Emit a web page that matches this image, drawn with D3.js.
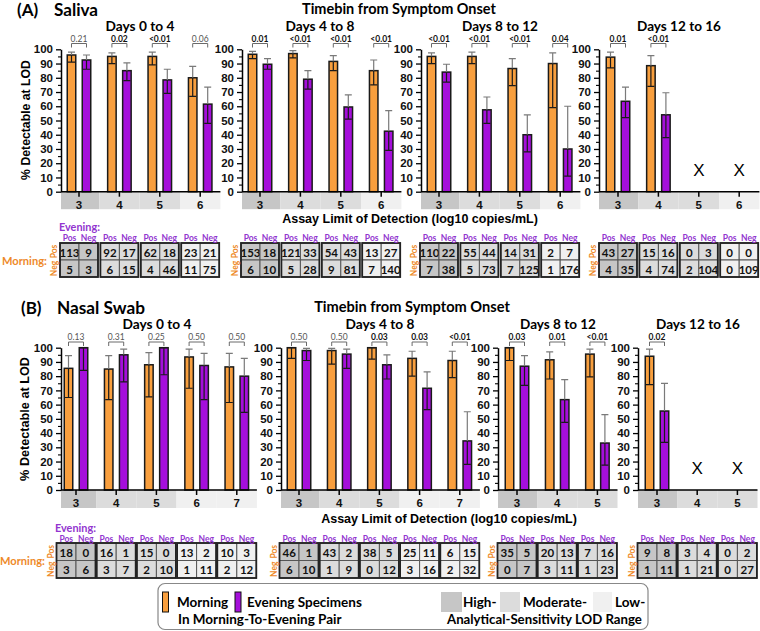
<!DOCTYPE html>
<html><head><meta charset="utf-8">
<script src="https://cdn.jsdelivr.net/npm/d3@7"></script>
<style>body{margin:0;background:#fff} svg{display:block}</style>
</head><body><svg id="c" width="760" height="631"></svg>
<script>
// ---------------- DATA ----------------
const timeBins = ["Days 0 to 4", "Days 4 to 8", "Days 8 to 12", "Days 12 to 16"];
const yTicks = [0,10,20,30,40,50,60,70,80,90,100];

// Saliva
const salivaLOD = [[3,4,5,6],[3,4,5,6],[3,4,5,6],[3,4,5,6]];
const salivaRange = [["H","M","M","L"],["H","M","M","L"],["H","M","M","L"],["H","M","M","L"]];
const salivaMorning   = [[96,95,95,80],[96.5,97,91.5,85],[95,95,86.5,90],[94.5,88.5,null,null]];
const salivaMorningLo = [[91,90,89,67],[93.5,94,85,75],[90,90,74.5,59],[87,74,null,null]];
const salivaMorningHi = [[98,97.5,98,88],[98.5,99,95.5,92.5],[97.5,98,93.5,97.5],[98,95.5,null,null]];
const salivaEvening   = [[92.5,85,78.5,61.5],[89.5,79,59.5,42.5],[84,57.5,40,30],[63.5,54,null,null]];
const salivaEveningLo = [[86,78,69,48],[86,72,51,29],[77,48,28,11],[52,38,null,null]];
const salivaEveningHi = [[96,90.5,86,73.5],[93.5,85,68,57],[89.5,66.5,54,60],[73.5,69.5,null,null]];
const salivaP = [["0.21","0.02","<0.01","0.06"],["0.01","<0.01","<0.01","<0.01"],["<0.01","<0.01","<0.01","0.04"],["0.01","<0.01",null,null]];
// 2x2 tables: [MorningPos&EveningPos, MorningPos&EveningNeg, MorningNeg&EveningPos, MorningNeg&EveningNeg]
const salivaTables = [
  [[113,9,5,3],[92,17,6,15],[62,18,4,46],[23,21,11,75]],
  [[153,18,6,10],[121,33,5,28],[54,43,9,81],[13,27,7,140]],
  [[110,22,7,38],[55,44,5,73],[14,31,7,125],[2,7,1,176]],
  [[43,27,4,35],[15,16,4,74],[0,3,2,104],[0,0,0,109]]
];

// Nasal swab
const nasalLOD = [[3,4,5,6,7],[3,4,5,6,7],[3,4,5],[3,4,5]];
const nasalRange = [["H","M","M","L","L"],["H","M","M","L","L"],["H","M","M"],["H","M","M"]];
const nasalMorning   = [[85.5,85,88,93.5,86.5],[100,98,100,92.5,91],[100,91.5,95.5],[94,null,null]];
const nasalMorningLo = [[65,63.5,65.5,71.5,61.5],[92.5,88.5,92,80,79],[91,78,79.5],[74,null,null]];
const nasalMorningHi = [[94.5,94.5,96.5,99,96],[100,99.5,100,97.5,97.5],[100,97,99],[99,null,null]];
const nasalEvening   = [[100,95,100,87.5,80],[98,95.5,88,71.5,34.5],[87,63.5,33],[55.5,null,null]];
const nasalEveningLo = [[84,76,81,63.5,54.5],[91,85.5,78,56.5,18],[73.5,47.5,17.5],[33.5,null,null]];
const nasalEveningHi = [[100,99,100,96,92.5],[99.5,99,95,83,55],[94.5,77.5,53],[75,null,null]];
const nasalP = [["0.13","0.31","0.25","0.50","0.50"],["0.50","0.50","0.03","0.03","<0.01"],["0.03","0.01","<0.01"],["0.02",null,null]];
const nasalTables = [
  [[18,0,3,6],[16,1,3,7],[15,0,2,10],[13,2,1,11],[10,3,2,12]],
  [[46,1,6,10],[43,2,1,9],[38,5,0,12],[25,11,3,16],[6,15,2,32]],
  [[35,5,0,7],[20,13,3,11],[7,16,1,23]],
  [[9,8,1,11],[3,4,1,21],[0,2,0,27]]
];

// ---------------- STYLE ----------------
const COL_M = "#f89f3e", COL_E = "#a50fdb";
const TXT_M = "#ee8a2a", TXT_E = "#9235cf";
const RANGE_FILL = {H:"#c6c6c6", M:"#dcdcdc", L:"#f0f0f0"};
const F_CAL = "Lato, 'Open Sans', sans-serif";
const F_ARI = "'Liberation Sans', Arial, sans-serif";

const svg = d3.select("#c");

function txt(g, x, y, s, o = {}) {
  const fs = o.fs || 12;
  const t = g.append("text").attr("x", x).attr("y", y).text(s)
    .attr("font-family", o.ff || F_CAL).attr("font-weight", o.fw || "bold")
    .attr("font-size", fs).attr("fill", o.fill || "#000")
    .attr("text-anchor", o.anchor || "start").attr("dominant-baseline", "central");
  if (o.w) { const L = t.node().getComputedTextLength(); t.attr("font-size", fs * o.w / L); }
  if (o.rot) t.attr("transform", `rotate(${o.rot},${x},${y})`);
  return t;
}

function drawPanel(P) {
  const g = svg.append("g");
  const y = d3.scaleLinear().domain([0, 100]).range([P.yBot, P.yTop]);

  // panel headings
  txt(g, P.letterX, P.headY, P.letter, {fs: 17});
  txt(g, P.nameX, P.headY, P.name, {fs: 17, w: P.nameW});
  txt(g, P.timebinX, P.timebinY, "Timebin from Symptom Onset", {fs: 15, w: P.timebinW, anchor: "middle"});
  txt(g, P.yTitleX, P.yTitleY, "% Detectable at LOD", {ff: F_ARI, fs: 13, w: P.yTitleW, anchor: "middle", rot: -90});
  txt(g, P.xTitleX, P.xTitleY, "Assay Limit of Detection (log10 copies/mL)", {ff: F_ARI, fs: 14, w: 256, anchor: "middle"});
  txt(g, P.eveX, P.eveY, "Evening:", {fs: 13, w: 41, fill: TXT_E});
  txt(g, P.mornX, P.mornY, "Morning:", {fs: 14, w: 45, fill: TXT_M});

  timeBins.forEach((bin, k) => {
    const lods = P.lod[k];
    const x0 = P.cat3[k] - P.step / 2;
    const xEnd = x0 + lods.length * P.step;
    const ax = P.axisX[k];
    const x = d3.scaleBand().domain(lods).range([x0, xEnd]);
    const cx = d => x(d) + x.bandwidth() / 2;
    const sg = g.append("g");

    txt(sg, P.titleX[k], P.titleY, bin, {fs: 15, w: P.titleW[k], anchor: "middle"});

    // LOD range bands
    sg.selectAll(null).data(lods).join("rect")
      .attr("x", d => Math.max(ax, x(d)))
      .attr("width", d => x(d) + x.bandwidth() - Math.max(ax, x(d)))
      .attr("y", P.yBot).attr("height", P.bandH)
      .attr("fill", (d, i) => RANGE_FILL[P.range[k][i]]);

    // bars
    const series = [
      {v: P.m[k], lo: P.mlo[k], hi: P.mhi[k], col: COL_M, off: -P.off},
      {v: P.e[k], lo: P.elo[k], hi: P.ehi[k], col: COL_E, off: P.off}
    ];
    series.forEach(s => {
      lods.forEach((d, i) => {
        if (s.v[i] == null) return;
        const bc = cx(d) + s.off;
        sg.append("rect").attr("x", bc - P.barW / 2).attr("width", P.barW)
          .attr("y", y(s.v[i])).attr("height", y(0) - y(s.v[i]))
          .attr("fill", s.col).attr("stroke", "#1a1a1a").attr("stroke-width", 1.5);
        // error bars: grey outside bar, dark inside
        const cw = 3.5;
        if (s.hi[i] > s.v[i]) {
          sg.append("path").attr("d", `M${bc},${y(s.v[i])}V${y(s.hi[i])}M${bc - cw},${y(s.hi[i])}H${bc + cw}`)
            .attr("stroke", "#7a7a7a").attr("stroke-width", 1.2).attr("fill", "none");
        } else {
          sg.append("path").attr("d", `M${bc - cw},${y(s.hi[i])}H${bc + cw}`)
            .attr("stroke", "#1a1a1a").attr("stroke-width", 1.2);
        }
        sg.append("path").attr("d", `M${bc},${y(s.v[i])}V${y(s.lo[i])}M${bc - cw},${y(s.lo[i])}H${bc + cw}`)
          .attr("stroke", "#1a1a1a").attr("stroke-width", 1.2).attr("fill", "none");
      });
    });

    // missing data markers
    lods.forEach((d, i) => {
      if (P.m[k][i] == null) {
        txt(sg, cx(d), y(15), "X", {ff: F_ARI, fw: "normal", fs: 17, anchor: "middle"});
      }
    });

    // p-value brackets
    lods.forEach((d, i) => {
      const p = P.p[k][i];
      if (p == null) return;
      const sig = p.startsWith("<") || +p < 0.05;
      const a = cx(d) - P.off, b = cx(d) + P.off;
      sg.append("path").attr("d", `M${a},${P.bracketY + 4}V${P.bracketY}H${b}V${P.bracketY + 4}`)
        .attr("stroke", "#6a6a6a").attr("stroke-width", 1).attr("fill", "none");
      txt(sg, (a + b) / 2, P.pY, p, {fs: 8.5, fw: sig ? "bold" : "normal", fill: sig ? "#111" : "#555", anchor: "middle"});
    });

    // y axis
    const ya = sg.append("g").attr("transform", `translate(${ax},0)`)
      .call(d3.axisLeft(y).tickValues(yTicks).tickSize(5).tickSizeOuter(0).tickPadding(3));
    ya.select(".domain").attr("stroke-width", 1.5);
    ya.selectAll(".tick line").attr("stroke-width", 1.3);
    ya.selectAll(".tick text").attr("font-family", F_ARI).attr("font-weight", "bold").attr("font-size", 11.5).attr("fill", "#111");
    const ym = sg.append("g").attr("transform", `translate(${ax},0)`)
      .call(d3.axisLeft(y).tickValues(d3.range(5, 100, 10)).tickSize(3).tickSizeOuter(0).tickFormat(""));
    ym.select(".domain").remove();
    ym.selectAll(".tick line").attr("stroke-width", 1.1);

    // x axis
    const xa = sg.append("g").attr("transform", `translate(0,${y(0)})`)
      .call(d3.axisBottom(x).tickSize(5).tickSizeOuter(0).tickPadding(4));
    xa.select(".domain").remove();
    xa.selectAll(".tick line").attr("stroke-width", 1.5);
    xa.selectAll(".tick text").attr("font-family", F_ARI).attr("font-weight", "bold").attr("font-size", 11.5).attr("fill", "#111");
    sg.append("line").attr("x1", ax).attr("x2", xEnd).attr("y1", y(0)).attr("y2", y(0))
      .attr("stroke", "#000").attr("stroke-width", 1.5);

    // 2x2 tables
    const tw = P.tableW, th = P.tableH, cwid = tw / 2, chei = th / 2;
    lods.forEach((d, i) => {
      const tl = cx(d) - tw / 2, tt = P.tableY;
      const fill = RANGE_FILL[P.range[k][i]];
      const vals = P.tables[k][i];
      vals.forEach((v, j) => {
        const r = Math.floor(j / 2), c = j % 2;
        sg.append("rect").attr("x", tl + c * cwid).attr("y", tt + r * chei)
          .attr("width", cwid).attr("height", chei).attr("fill", fill)
          .attr("stroke", "#555").attr("stroke-width", 1);
        txt(sg, tl + c * cwid + cwid / 2, tt + r * chei + chei / 2 + 0.5, String(v), {fs: 11.5, anchor: "middle", fill: "#111"});
      });
      sg.append("rect").attr("x", tl).attr("y", tt).attr("width", tw).attr("height", th)
        .attr("fill", "none").attr("stroke", "#222").attr("stroke-width", 1.8);
      txt(sg, tl + cwid / 2, P.headerY, "Pos", {fs: 8.5, fill: TXT_E, anchor: "middle"});
      txt(sg, tl + cwid * 1.5, P.headerY, "Neg", {fs: 8.5, fill: TXT_E, anchor: "middle"});
      if (i === 0) {
        txt(sg, tl - 6, tt + chei / 2, "Pos", {fs: 8.5, fill: TXT_M, anchor: "middle", rot: -90});
        txt(sg, tl - 6, tt + chei * 1.5, "Neg", {fs: 8.5, fill: TXT_M, anchor: "middle", rot: -90});
      }
    });
  });
}

drawPanel({
  letter: "(A)", name: "Saliva", letterX: 17, nameX: 54, nameW: 44, headY: 9,
  timebinX: 399, timebinY: 8.5, timebinW: 194,
  yTitleX: 26, yTitleY: 120, yTitleW: 120,
  xTitleX: 410, xTitleY: 219,
  eveX: 59, eveY: 226, mornX: 2, mornY: 260,
  lod: salivaLOD, range: salivaRange,
  m: salivaMorning, mlo: salivaMorningLo, mhi: salivaMorningHi,
  e: salivaEvening, elo: salivaEveningLo, ehi: salivaEveningHi,
  p: salivaP, tables: salivaTables,
  yTop: 49.3, yBot: 191.7, bandH: 17.5, step: 40.4,
  cat3: [79, 260, 439, 618], axisX: [61, 242, 421, 599],
  off: 7.5, barW: 8.5,
  bracketY: 43.5, pY: 38.5,
  titleX: [140, 320, 500, 679], titleW: [69, 69, 76, 84], titleY: 25.5,
  headerY: 238, tableY: 243, tableH: 34, tableW: 38
});

drawPanel({
  letter: "(B)", name: "Nasal Swab", letterX: 21, nameX: 57, nameW: 88, headY: 307,
  timebinX: 412, timebinY: 306, timebinW: 196,
  yTitleX: 25, yTitleY: 419, yTitleW: 124,
  xTitleX: 449, xTitleY: 519,
  eveX: 55, eveY: 527, mornX: 0, mornY: 560,
  lod: nasalLOD, range: nasalRange,
  m: nasalMorning, mlo: nasalMorningLo, mhi: nasalMorningHi,
  e: nasalEvening, elo: nasalEveningLo, ehi: nasalEveningHi,
  p: nasalP, tables: nasalTables,
  yTop: 347.7, yBot: 490, bandH: 18, step: 40.2,
  cat3: [76, 299, 517, 657], axisX: [61, 281, 498, 638],
  off: 7.5, barW: 8.5,
  bracketY: 342, pY: 337,
  titleX: [157, 380, 558, 698], titleW: [69, 69, 76, 84], titleY: 323.5,
  headerY: 539, tableY: 543, tableH: 35, tableW: 39
});

// ---------------- LEGEND ----------------
const lg = svg.append("g");
lg.append("rect").attr("x", 158).attr("y", 583.5).attr("width", 490).attr("height", 46)
  .attr("rx", 7).attr("fill", "#fff").attr("stroke", "#888").attr("stroke-width", 1.2);
lg.append("rect").attr("x", 162.5).attr("y", 592).attr("width", 6).attr("height", 20)
  .attr("fill", COL_M).attr("stroke", "#111").attr("stroke-width", 1);
lg.append("rect").attr("x", 235).attr("y", 592).attr("width", 6).attr("height", 20)
  .attr("fill", COL_E).attr("stroke", "#111").attr("stroke-width", 1);
txt(lg, 177, 602, "Morning", {fs: 13.5});
txt(lg, 247, 602, "Evening Specimens", {fs: 13.5});
txt(lg, 178, 619, "In Morning-To-Evening Pair", {fs: 13.5});
lg.append("rect").attr("x", 441).attr("y", 592).attr("width", 21).attr("height", 20).attr("fill", RANGE_FILL.H);
lg.append("rect").attr("x", 500).attr("y", 592).attr("width", 20).attr("height", 20).attr("fill", RANGE_FILL.M);
lg.append("rect").attr("x", 593).attr("y", 592).attr("width", 19).attr("height", 20).attr("fill", RANGE_FILL.L);
txt(lg, 463, 602, "High-", {fs: 13.5});
txt(lg, 523, 602, "Moderate-", {fs: 13.5});
txt(lg, 615, 602, "Low-", {fs: 13.5});
txt(lg, 447, 619, "Analytical-Sensitivity LOD Range", {fs: 13.5, w: 195});
</script></body></html>
